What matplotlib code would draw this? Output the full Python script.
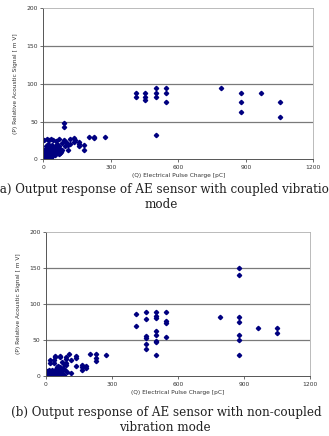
import matplotlib.pyplot as plt

# (a) coupled vibration mode: charge [pC] vs acoustic signal [mV]
a_x = [5, 8, 12, 15, 20, 25, 30, 35, 40, 45,
       8, 15, 22, 30, 38, 45, 52, 60, 68, 75,
       5, 12, 18, 25, 32, 40, 48, 55, 62, 70, 78, 85,
       10, 20, 30, 40, 50, 60, 72, 85, 95, 110,
       5, 15, 25, 35, 45, 55, 70, 90, 100, 120, 135,
       92, 92, 110, 120, 135, 140, 159, 159, 159, 182, 182, 203, 227, 227, 274,
       412, 412, 453, 453, 453, 501, 501, 501, 501, 545, 545, 545,
       790, 877, 877, 877, 966, 1052, 1052]
a_y = [3, 5, 2, 6, 4, 3, 5, 2, 4, 6,
       8, 10, 7, 9, 11, 8, 6, 10, 7, 9,
       12, 14, 11, 15, 13, 16, 12, 14, 11, 15, 10, 12,
       18, 20, 17, 19, 16, 20, 18, 21, 17, 19,
       26, 27, 25, 27, 26, 24, 27, 26, 23, 27, 28,
       48, 43, 12, 20, 23, 25, 23, 20, 17, 19, 13, 29, 30, 28, 30,
       88, 82, 88, 82, 79, 94.5, 88, 82, 32, 94.5, 88, 75.5,
       94.5, 88, 75.5, 63, 88, 75.5, 56.5]

# (b) non-coupled vibration mode
b_x = [3, 6, 10, 14, 18, 22, 26, 30, 34, 38, 42, 46, 50, 55, 60, 65, 70, 75, 80,
       5, 12, 20, 28, 36, 44, 52, 60, 68, 76, 85,
       48, 55, 62, 80, 95,
       17, 17, 38, 38, 40, 42, 65, 65, 73, 91, 91, 91, 91, 104, 113, 113,
       138, 138, 138, 162, 162, 162, 183, 183, 201, 228, 228, 228, 272,
       409, 409, 453, 453, 453, 453, 453, 453,
       500, 500, 500, 500, 500, 500, 500, 500, 545, 545, 545, 545,
       790, 877, 877, 877, 877, 877, 877, 877, 964, 1052, 1052]
b_y = [2, 4, 1, 3, 5, 2, 4, 3, 1, 5, 2, 4, 3, 6, 2, 5, 3, 4, 2,
       7, 8, 6, 9, 7, 10, 8, 9, 7, 11, 8,
       12, 14, 13, 16, 5,
       22, 18, 22, 18, 27, 28, 28, 26, 20, 26, 23, 18, 15, 30, 22, 4,
       28, 25, 14, 15, 12, 9, 14, 11, 30, 30, 25, 21, 29,
       86, 70, 89, 79, 56, 53, 44, 38,
       89, 83, 80, 63, 57, 48, 47, 29, 89, 76, 73, 54,
       82, 150, 140, 82, 75.5, 57, 50, 29, 66.7, 66.7, 60]

x_ticks = [0, 300, 600, 900, 1200]
y_ticks = [0, 50, 100, 150, 200]

fig = plt.figure(figsize=(3.29, 4.36), dpi=100)


def draw_panel(ax, xs, ys):
    ax.plot(xs, ys, linestyle='none', marker='D', markersize=2.2,
            color='#000080')
    ax.set_xlim(0, 1200)
    ax.set_ylim(0, 200)
    ax.set_xticks(x_ticks)
    ax.set_yticks(y_ticks)
    for v in [50, 100, 150]:
        ax.axhline(v, color='#7a7a7a', linewidth=0.9, zorder=0)
    ax.tick_params(labelsize=4.3, length=2, width=0.5, pad=2,
                   colors='#333333')
    for side in ['top', 'right']:
        ax.spines[side].set_color('#b0b0b0')
        ax.spines[side].set_linewidth(0.6)
    for side in ['left', 'bottom']:
        ax.spines[side].set_color('#555555')
        ax.spines[side].set_linewidth(0.7)
    ax.set_xlabel('(Q) Electrical Pulse Charge [pC]', fontsize=4.2,
                  labelpad=2.5, color='#333333')
    ax.set_ylabel('(P) Relative Acoustic Signal [ m V]', fontsize=4.2,
                  labelpad=6, color='#333333')


ax1 = fig.add_axes([0.1316, 0.6346, 0.8207, 0.3463])
draw_panel(ax1, a_x, a_y)

ax2 = fig.add_axes([0.1398, 0.1376, 0.8024, 0.3303])
draw_panel(ax2, b_x, b_y)

cap = dict(family='DejaVu Serif', fontsize=8.6, ha='center', va='center',
           color='#222222')
fig.text(0.505, 0.566, '(a) Output response of AE sensor with coupled vibration', **cap)
fig.text(0.49, 0.53, 'mode', **cap)
fig.text(0.505, 0.055, '(b) Output response of AE sensor with non-coupled', **cap)
fig.text(0.5, 0.02, 'vibration mode', **cap)

fig.savefig('out.png', dpi=100)
